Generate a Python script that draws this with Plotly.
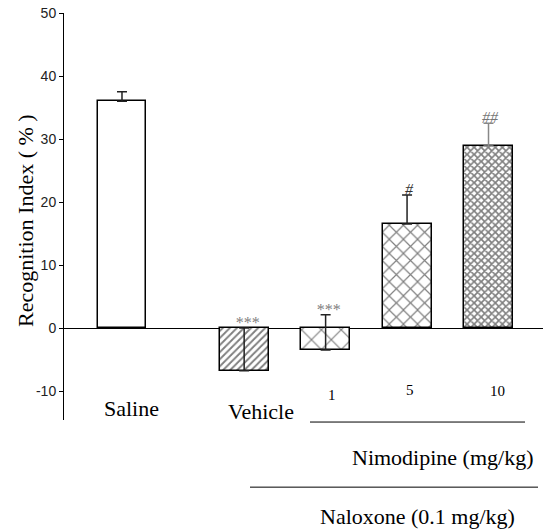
import plotly.graph_objects as go

# ---- data ----
groups = ["Saline", "Vehicle", "1", "5", "10"]
values = [36.0, -6.8, -3.5, 16.5, 28.9]
errors = [1.5, 6.8, 5.6, 4.6, 3.6]
marks = ["", "***", "***", "#", "##"]
y_ticks = [-10, 0, 10, 20, 30, 40, 50]
y_tick_text = ["-10", "0", "10", "20", "30", "40", "50"]

# ---- layout / styling ----
x_pos = [0, 1.5, 2.5, 3.5, 4.5]
patterns = ["", "/", "x", "x", "x"]
pat_sizes = [8, 5, 14, 10, 5]
pat_solid = [0.2, 0.38, 0.16, 0.22, 0.55]
err_colors = ["#222", "#222", "#222", "#222", "#888"]
mark_colors = ["#808080", "#808080", "#808080", "#333333", "#777777"]

fig = go.Figure()
for i, g in enumerate(groups):
    fig.add_trace(go.Bar(
        x=[x_pos[i]], y=[values[i]], width=0.6, name=g,
        marker=dict(color="white", line=dict(color="black", width=1.5),
                    pattern=dict(shape=patterns[i], size=pat_sizes[i],
                                 solidity=pat_solid[i], fgcolor="black",
                                 bgcolor="white", fillmode="overlay")),
        error_y=dict(type="data", symmetric=False, array=[errors[i]],
                     arrayminus=[0], color=err_colors[i], thickness=1.5,
                     width=5),
        showlegend=False,
    ))
    if marks[i]:
        top = values[i] + errors[i] if values[i] > 0 else max(values[i] + errors[i], 0)
        fig.add_annotation(x=x_pos[i] + 0.03, y=top,
                           text="<i>" + marks[i] + "</i>", showarrow=False,
                           xanchor="center", yanchor="bottom", yshift=-5,
                           font=dict(family="Liberation Serif", size=16,
                                     color=mark_colors[i]),
                           xref="x", yref="y")

serif = "Liberation Serif"


def label(text, x, y, size, xref="x", yref="y", angle=0):
    fig.add_annotation(x=x, y=y, xref=xref, yref=yref, text=text,
                       showarrow=False, xanchor="center", yanchor="middle",
                       textangle=angle,
                       font=dict(family=serif, size=size, color="black"))


# group labels
label("Saline", x_pos[0] + 0.12, -12.7, 22)
label("Vehicle", x_pos[1] + 0.21, -13.2, 22)
for i, off, yy in zip([2, 3, 4], [0.08, 0.03, 0.11], [-10.6, -9.9, -10.0]):
    label(groups[i], x_pos[i] + off, yy, 15)

fig.add_shape(type="line", xref="paper", yref="paper",
              x0=(310 - 64) / 479, x1=(525 - 64) / 479, y0=-0.005, y1=-0.005,
              line=dict(color="black", width=1))
label("Nimodipine (mg/kg)", (442 - 64) / 479, -0.093, 22, "paper", "paper")
fig.add_shape(type="line", xref="paper", yref="paper",
              x0=(250 - 64) / 479, x1=(538 - 64) / 479, y0=-0.165, y1=-0.165,
              line=dict(color="black", width=1))
label("Naloxone (0.1 mg/kg)", (417 - 64) / 479, -0.238, 22, "paper", "paper")
# y title
label("Recognition Index ( % )", (26 - 64) / 479, 0.489, 22, "paper", "paper", -90)

fig.update_layout(
    width=547, height=530,
    margin=dict(l=64, r=4, t=13, b=110),
    paper_bgcolor="white", plot_bgcolor="white",
    bargap=0,
    xaxis=dict(range=[-0.712, 5.169], showline=False, showgrid=False,
               zeroline=False, showticklabels=False, ticks=""),
    yaxis=dict(range=[-14.6, 50], tickvals=y_ticks, ticktext=y_tick_text,
               ticks="outside",
               ticklen=4, tickcolor="black", showline=True, linecolor="black",
               linewidth=1, showgrid=False, zeroline=True,
               zerolinecolor="black", zerolinewidth=1,
               tickfont=dict(family="Liberation Sans", size=14, color="#222")),
)

fig.write_html("out.html")
